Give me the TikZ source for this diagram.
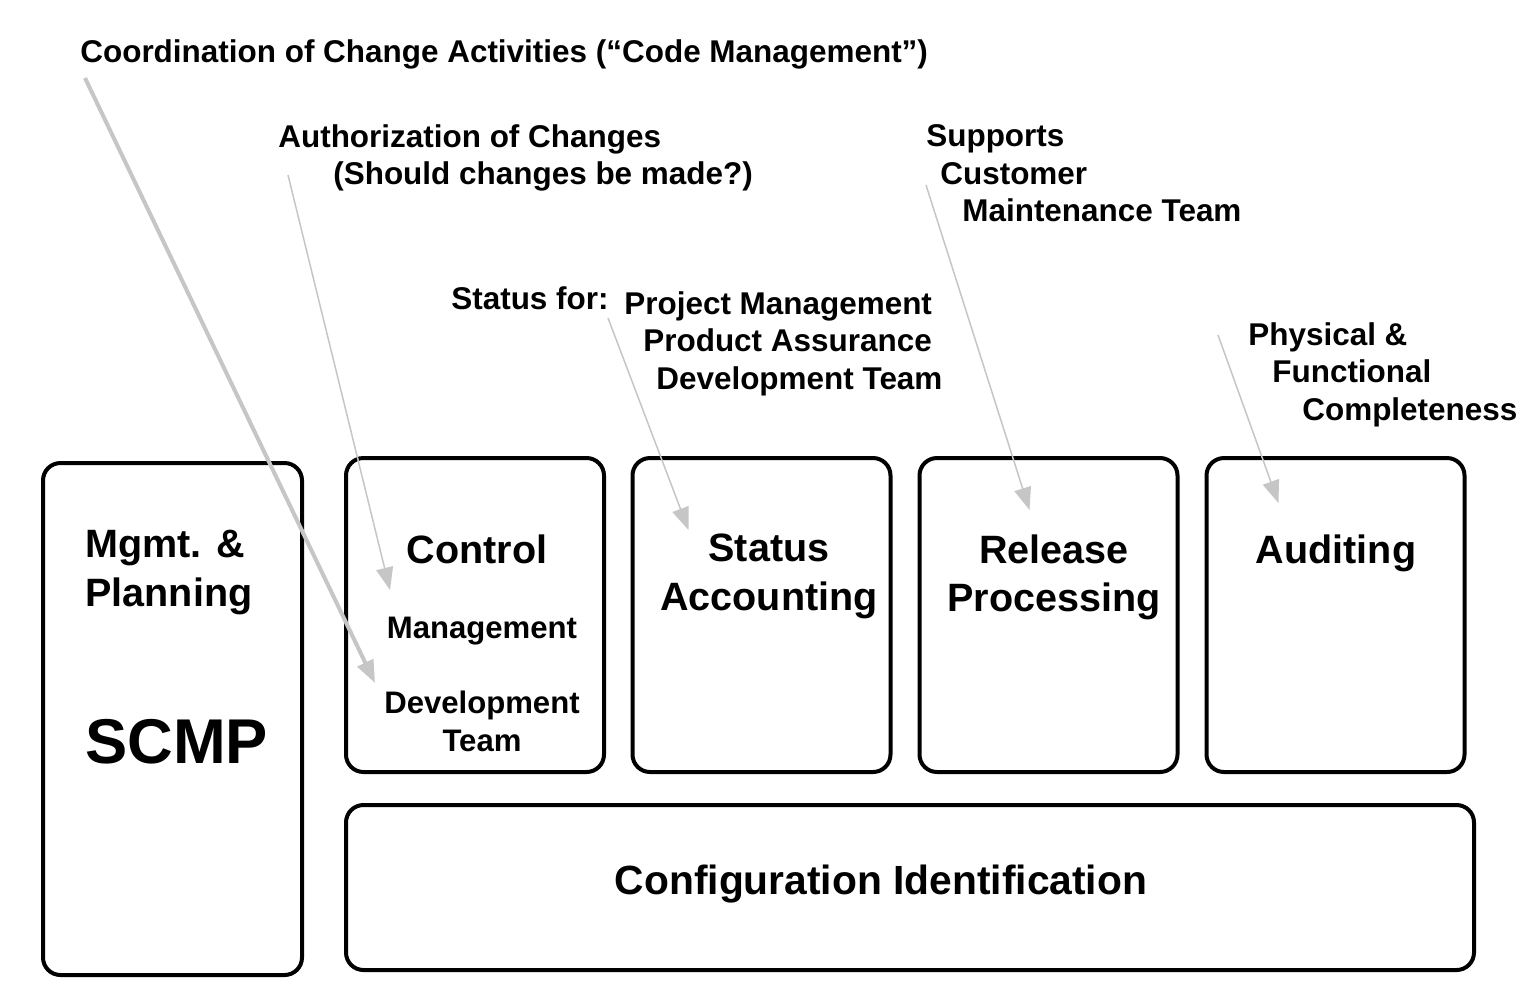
\documentclass[tikz,border=0pt]{standalone}
\usepackage{fontspec}
\setmainfont{Liberation Sans}
\usepackage{tikz}
\usetikzlibrary{calc, arrows.meta}
\tikzstyle{module} = [rectangle, rounded corners=0.35cm, draw=black, line width=0.08cm, outer sep=0pt, inner sep=0pt]
\tikzstyle{legende} = [anchor=north west, inner sep=0pt, align=left, font=\fontsize{17.9}{21.5}\selectfont\bfseries]
\tikzstyle{titre} = [anchor=north, inner sep=0pt, align=center, font=\fontsize{22.5}{27.5}\selectfont\bfseries]
\tikzstyle{soustitre} = [anchor=north, inner sep=0pt, align=center, font=\fontsize{17.7}{21.5}\selectfont\bfseries]
\tikzstyle{fleche} = [draw=gray!45, line width=0.03cm, -{Triangle[length=0.45cm, width=0.34cm]}]

\begin{document}
\begin{tikzpicture}

        \fill [white] (0,0) rectangle (30.76,-19.96);
        \useasboundingbox (0,0) rectangle (30.76,-19.96);

        \node (mgmt)  [module, minimum width=5.18cm, minimum height=10.24cm] at (3.45,-14.38) {};
        \node (ctrl)  [module, minimum width=5.16cm, minimum height=6.28cm] at (9.5,-12.3) {};
        \node (stat)  [module, minimum width=5.16cm, minimum height=6.28cm] at (15.23,-12.3) {};
        \node (rel)   [module, minimum width=5.16cm, minimum height=6.28cm] at (20.97,-12.3) {};
        \node (aud)   [module, minimum width=5.16cm, minimum height=6.28cm] at (26.71,-12.3) {};
        \node (ident) [module, minimum width=22.56cm, minimum height=3.3cm] at (18.2,-17.75) {};

        \node (mgmttxt)  [titre, anchor=north west, align=left] at (1.7,-10.6) {Mgmt. \&\\Planning};
        \node (scmp)     [anchor=north west, inner sep=0pt, font=\fontsize{36}{40}\selectfont\bfseries] at (1.7,-14.38) {SCMP};
        \node (ctrltxt)  [titre] at (9.54,-10.68) {Control};
        \node (mgttxt)   [soustitre] at (9.64,-12.34) {Management};
        \node (devtxt)   [soustitre] at (9.64,-13.82) {Development\\Team};
        \node (stattxt)  [titre] at (15.38,-10.68) {Status\\Accounting};
        \node (reltxt)   [titre] at (21.08,-10.68) {Release\\Processing};
        \node (audtxt)   [titre] at (26.72,-10.68) {Auditing};
        \node (identtxt) [titre, font=\fontsize{23.2}{27.5}\selectfont\bfseries] at (17.62,-17.3) {Configuration Identification};

        \node (coord)    [legende] at (1.6,-0.78) {Coordination of Change Activities (“Code Management”)};
        \node (auth)     [legende] at (5.56,-2.48) {Authorization of Changes\\\hspace*{1.1cm}(Should changes be made?)};
        \node (supp)     [legende] at (18.52,-2.48) {Supports\\\hspace*{0.28cm}Customer\\\hspace*{0.72cm}Maintenance Team};
        \node (statfor)  [legende] at (9.02,-5.72) {Status for:};
        \node (statlist) [legende] at (12.48,-5.82) {Project Management\\\hspace*{0.38cm}Product Assurance\\\hspace*{0.64cm}Development Team};
        \node (phys)     [legende] at (24.96,-6.44) {Physical \&\\\hspace*{0.48cm}Functional\\\hspace*{1.08cm}Completeness};

        \draw [fleche, line width=0.08cm] ($(coord.north west) + (0.1,-0.78)$) -- ($(ctrl.north west) + (0.58,-4.5)$);
        \draw [fleche] ($(auth.north west) + (0.2,-1.02)$) -- ($(ctrl.north west) + (0.88,-2.64)$);
        \draw [fleche] ($(statlist.north west) + (-0.32,-0.54)$) -- ($(stat.north west) + (1.12,-1.44)$);
        \draw [fleche] ($(supp.north west) + (0,-1.22)$) -- ($(rel.north west) + (2.2,-1.04)$);
        \draw [fleche] ($(phys.north west) + (-0.6,-0.26)$) -- ($(aud.north west) + (1.44,-0.9)$);

    \end{tikzpicture}
\end{document}
